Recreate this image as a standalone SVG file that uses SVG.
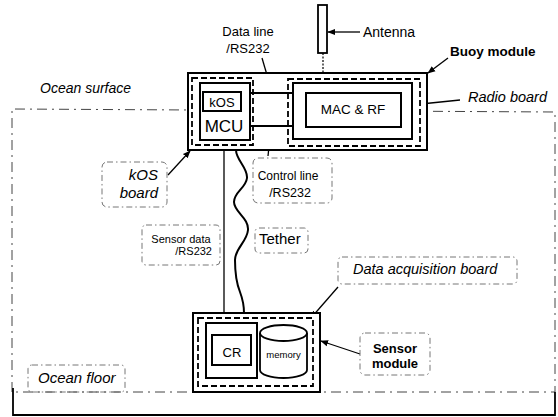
<svg xmlns="http://www.w3.org/2000/svg" width="558" height="417" viewBox="0 0 558 417">
<style>
text{font-family:"Liberation Sans",Arial,sans-serif;fill:#000}
.it{font-style:italic}
.b{font-weight:bold}
.solid{fill:#fff;stroke:#000;stroke-width:2}
.bd{fill:none;stroke:#000;stroke-width:1.8;stroke-dasharray:6 3}
.lab{fill:none;stroke:#666;stroke-width:0.9;stroke-dasharray:6 3 1.5 3}
.ocean{fill:none;stroke:#444;stroke-width:1;stroke-dasharray:10 5 2 5}
.lead{fill:none;stroke:#000;stroke-width:1.3}
</style>
<defs>
<marker id="ah" viewBox="0 0 10 10" refX="9" refY="5" markerWidth="6" markerHeight="6" orient="auto"><path d="M0,1 L10,5 L0,9 Z" fill="#000"/></marker>
</defs>
<rect width="558" height="417" fill="#fff"/>

<g id="ocean">
<path class="ocean" d="M12,392 L12,109 L555,112 L555,392 Z"/>
<path d="M13,388 L13,415 L555,415 L555,392" fill="none" stroke="#000" stroke-width="1.8"/>
<text class="it" x="40" y="93" font-size="14">Ocean surface</text>
</g>

<g id="ocean-floor-label">
<rect class="lab" x="28" y="365" width="97" height="27" rx="4"/>
<text class="it" x="38" y="383" font-size="15">Ocean floor</text>
</g>

<g id="connectors">
<line x1="323" y1="53" x2="323" y2="73" stroke="#000" stroke-width="1.2" stroke-dasharray="2 1.5"/>
<line class="lead" x1="360" y1="32" x2="328" y2="32" marker-end="url(#ah)"/>
<line class="lead" x1="262" y1="58" x2="272" y2="92" marker-end="url(#ah)"/>
<line class="lead" x1="268" y1="156" x2="271" y2="128" marker-end="url(#ah)"/>
<line class="lead" x1="448" y1="58" x2="428" y2="73" marker-end="url(#ah)"/>
<line class="lead" x1="460" y1="100" x2="421" y2="104" marker-end="url(#ah)"/>
<line class="lead" x1="168" y1="175" x2="190" y2="151" marker-end="url(#ah)"/>
<line class="lead" x1="338" y1="287" x2="311" y2="318" marker-end="url(#ah)"/>
<line class="lead" x1="360" y1="354" x2="321" y2="341" marker-end="url(#ah)"/>
<line x1="224" y1="140" x2="224" y2="323" stroke="#000" stroke-width="1.3"/>
<path d="M236,150 C236,160 248,168 247,178 C246,188 234,192 234,202 C234,212 249,218 248,230 C247,242 235,248 235,260 C235,272 236,282 240,292 C243,300 244,306 244,313" fill="none" stroke="#000" stroke-width="2"/>
</g>

<g id="antenna">
<rect x="318" y="5" width="9" height="48" fill="#fff" stroke="#000" stroke-width="1.8"/>
<text x="363" y="37" font-size="14">Antenna</text>
</g>

<g id="buoy-module">
<rect class="solid" x="188" y="73" width="239" height="77"/>
<line x1="250" y1="93" x2="293" y2="93" stroke="#000" stroke-width="1.8"/>
<line x1="250" y1="126" x2="293" y2="126" stroke="#000" stroke-width="1.8"/>
<text class="b" x="450" y="56" font-size="13.5">Buoy module</text>
</g>

<g id="kos-board">
<rect class="bd" x="192" y="78" width="61" height="67"/>
</g>

<g id="mcu">
<rect class="solid" x="200" y="83" width="50" height="57"/>
<text x="224" y="132" font-size="17" text-anchor="middle">MCU</text>
</g>

<g id="kos">
<rect class="solid" x="203" y="92" width="38" height="19"/>
<text x="222" y="107" font-size="13" text-anchor="middle">kOS</text>
</g>

<g id="radio-board">
<rect class="bd" x="288" y="79" width="132" height="67"/>
<text class="it" x="468" y="102" font-size="14.5">Radio board</text>
</g>

<g id="mac-rf">
<rect class="solid" x="293" y="83" width="119" height="56"/>
<rect class="solid" x="306" y="93" width="95" height="34"/>
<text x="353" y="114" font-size="13.5" text-anchor="middle">MAC &amp; RF</text>
</g>

<g id="data-line-label">
<text x="248" y="36" font-size="13" text-anchor="middle">Data line</text>
<text x="248" y="53" font-size="13" text-anchor="middle">/RS232</text>
</g>

<g id="control-line-label">
<rect class="lab" x="253" y="158" width="79" height="45" rx="5"/>
<text x="288" y="180" font-size="12" text-anchor="middle">Control line</text>
<text x="290" y="197" font-size="12.5" text-anchor="middle">/RS232</text>
</g>

<g id="kos-board-label">
<rect class="lab" x="102" y="162" width="65" height="45" rx="5"/>
<text class="it" x="158" y="180" font-size="15" text-anchor="end">kOS</text>
<text class="it" x="158" y="198" font-size="15" text-anchor="end">board</text>
</g>

<g id="sensor-data-label">
<rect class="lab" x="142" y="225" width="78" height="40" rx="4"/>
<text x="181" y="243" font-size="11" text-anchor="middle">Sensor data</text>
<text x="212" y="255" font-size="11" text-anchor="end">/RS232</text>
</g>

<g id="tether-label">
<rect class="lab" x="255" y="228" width="53" height="25" rx="4"/>
<text x="259" y="244" font-size="15">Tether</text>
</g>

<g id="daq-label">
<rect class="lab" x="338" y="257" width="179" height="27" rx="4"/>
<text class="it" x="353" y="274" font-size="14.5">Data acquisition board</text>
</g>

<g id="sensor-module">
<rect class="solid" x="193" y="313" width="127" height="79"/>
<rect class="bd" x="198" y="318" width="115" height="68"/>
</g>

<g id="cr">
<rect class="solid" x="206" y="323" width="51" height="55"/>
<rect class="solid" x="212" y="335" width="39" height="30"/>
<text x="232" y="357" font-size="13" text-anchor="middle">CR</text>
</g>

<g id="memory">
<path d="M260,333 L260,370 A23.5,8 0 0 0 307,370 L307,333 A23.5,8 0 0 0 260,333 Z" fill="#fff" stroke="#000" stroke-width="1.8"/>
<path d="M260,333 A23.5,8 0 0 0 307,333" fill="none" stroke="#000" stroke-width="1.8"/>
<text x="283.5" y="358" font-size="9.5" text-anchor="middle">memory</text>
</g>

<g id="sensor-module-label">
<rect class="lab" x="360" y="333" width="70" height="42" rx="5"/>
<text class="b" x="395" y="353" font-size="13" text-anchor="middle">Sensor</text>
<text class="b" x="395" y="368" font-size="13" text-anchor="middle">module</text>
</g>
</svg>
